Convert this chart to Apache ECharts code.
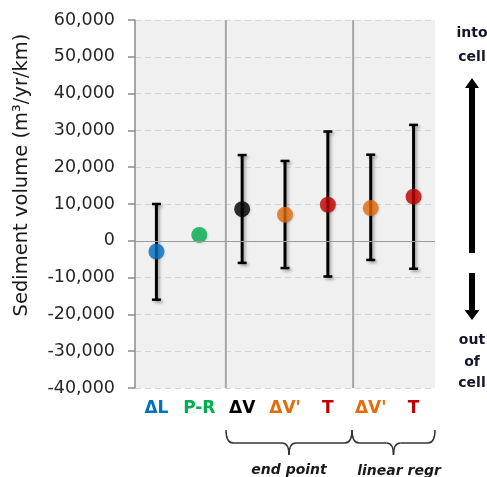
<!DOCTYPE html>
<html><head><meta charset="utf-8">
<script src="https://cdn.jsdelivr.net/npm/echarts@6/dist/echarts.min.js"></script>
<style>html,body{margin:0;padding:0;background:#fff}#c{width:487px;height:477px}</style>
</head><body><div id="c"></div>
<script>
const categories = ['ΔL', 'P-R', 'ΔV', "ΔV'", 'T', "ΔV'", 'T'];
const values = [-2900, 1600, 8600, 7100, 9800, 8900, 12000];
const errLow = [-16000, null, -6000, -7400, -9700, -5200, -7600];
const errHigh = [10000, null, 23300, 21700, 29700, 23400, 31500];
const yMin = -40000, yMax = 60000, yStep = 10000;
const groupLabels = ['end point', 'linear regr'];
const sideTop = ['into', 'cell'];
const sideBottom = ['out', 'of', 'cell'];

const colors = ['#0070C0', '#00B050', '#000000', '#E46C0A', '#C00000', '#E46C0A', '#C00000'];
const labelKeys = ['b', 'g', 'k', 'o', 'r', 'o', 'r'];

const chart = echarts.init(document.getElementById('c'), null, {renderer: 'canvas'});
const fmt = v => v.toLocaleString('en-US');

const errData = categories.map((c, i) => [i, errLow[i], errHigh[i]]).filter(d => d[1] !== null);
const dotData = categories.map((c, i) => ({value: [i, values[i]], itemStyle: {color: colors[i]}}));

function brace(x1, x2, yTop, yMid, yTip) {
  const xm = (x1 + x2) / 2, st = {stroke: '#333', lineWidth: 1.5, fill: null};
  return [
    {type: 'bezierCurve', shape: {x1: x1, y1: yTop, x2: x1 + 7, y2: yMid, cpx1: x1, cpy1: yMid}, style: st},
    {type: 'line', shape: {x1: x1 + 7, y1: yMid, x2: xm - 7, y2: yMid}, style: st},
    {type: 'bezierCurve', shape: {x1: xm - 7, y1: yMid, x2: xm, y2: yTip, cpx1: xm, cpy1: yMid}, style: st},
    {type: 'bezierCurve', shape: {x1: xm, y1: yTip, x2: xm + 7, y2: yMid, cpx1: xm, cpy1: yMid}, style: st},
    {type: 'line', shape: {x1: xm + 7, y1: yMid, x2: x2 - 7, y2: yMid}, style: st},
    {type: 'bezierCurve', shape: {x1: x2 - 7, y1: yMid, x2: x2, y2: yTop, cpx1: x2, cpy1: yMid}, style: st}
  ];
}
const txt = (x, y, t, extra) => ({type: 'text', x: x, y: y, style: Object.assign({text: t, fontSize: 14, fontWeight: 'bold', fontFamily: 'DejaVu Sans', fill: '#15152a', align: 'center', verticalAlign: 'middle'}, extra || {})});

const option = {
  animation: false,
  grid: {left: 135, right: 52, top: 20, bottom: 89, show: true, backgroundColor: '#f0f0f0', borderWidth: 0},
  xAxis: [{
    type: 'category', data: categories, boundaryGap: true,
    axisLine: {show: false}, axisTick: {show: false}, splitLine: {show: false},
    axisLabel: {
      margin: 12, interval: 0,
      formatter: (v, i) => '{' + labelKeys[i] + '|' + v + '}',
      rich: {
        b: {color: '#0070C0', fontWeight: 'bold', fontSize: 17, fontFamily: 'DejaVu Sans'},
        g: {color: '#00B050', fontWeight: 'bold', fontSize: 17, fontFamily: 'DejaVu Sans'},
        k: {color: '#000000', fontWeight: 'bold', fontSize: 17, fontFamily: 'DejaVu Sans'},
        o: {color: '#E46C0A', fontWeight: 'bold', fontSize: 17, fontFamily: 'DejaVu Sans'},
        r: {color: '#C00000', fontWeight: 'bold', fontSize: 17, fontFamily: 'DejaVu Sans'}
      }
    }
  }, {
    type: 'value', min: 0, max: 7, show: false
  }],
  yAxis: {
    type: 'value', min: yMin, max: yMax, interval: yStep,
    axisLine: {show: true, lineStyle: {color: '#8c8c8c', width: 1.5}},
    axisTick: {show: true, length: 7, lineStyle: {color: '#8c8c8c', width: 1.5}},
    splitLine: {show: true, lineStyle: {color: '#d6d6d6', type: [6, 4], width: 1.2}},
    axisLabel: {formatter: fmt, color: '#262626', fontSize: 17.5, fontFamily: 'DejaVu Sans', margin: 20}
  },
  series: [{
    type: 'custom', xAxisIndex: 0, z: 2,
    data: errData,
    renderItem: (params, api) => {
      const x = api.coord([api.value(0), 0])[0];
      const yl = api.coord([api.value(0), api.value(1)])[1];
      const yh = api.coord([api.value(0), api.value(2)])[1];
      const st = {stroke: '#000', lineWidth: 3, shadowBlur: 3, shadowColor: 'rgba(0,0,0,0.3)', shadowOffsetX: 2, shadowOffsetY: 2};
      const cst = {stroke: '#000', lineWidth: 2.5, shadowBlur: 3, shadowColor: 'rgba(0,0,0,0.3)', shadowOffsetX: 2, shadowOffsetY: 2};
      return {type: 'group', children: [
        {type: 'line', shape: {x1: x, y1: yl, x2: x, y2: yh}, style: st},
        {type: 'line', shape: {x1: x - 4.5, y1: yh, x2: x + 4.5, y2: yh}, style: cst},
        {type: 'line', shape: {x1: x - 4.5, y1: yl, x2: x + 4.5, y2: yl}, style: cst}
      ]};
    }
  }, {
    type: 'scatter', xAxisIndex: 0, z: 3, symbol: 'circle', symbolSize: 16,
    itemStyle: {shadowBlur: 2, shadowColor: 'rgba(0,0,0,0.15)', shadowOffsetX: 1, shadowOffsetY: 1},
    data: dotData,
    markLine: {
      silent: true, symbol: 'none', label: {show: false},
      lineStyle: {color: '#9a9a9a', type: 'solid', width: 1.2},
      data: [{yAxis: 0}]
    }
  }, {
    type: 'custom', xAxisIndex: 1, z: 1,
    data: [[2.12], [5.09]],
    renderItem: (params, api) => {
      const x = api.coord([api.value(0), yMax])[0];
      const yt = api.coord([api.value(0), yMax])[1];
      const yb = api.coord([api.value(0), yMin])[1];
      return {type: 'line', shape: {x1: x, y1: yt, x2: x, y2: yb}, style: {stroke: '#a6a6a6', lineWidth: 2}};
    }
  }],
  graphic: [
    {type: 'text', x: 22, y: 175, rotation: Math.PI / 2,
     style: {text: 'Sediment volume (m³/yr/km)', fontSize: 19.5, fontFamily: 'DejaVu Sans', fill: '#1a1a1a', align: 'center', verticalAlign: 'middle'}},
    {type: 'group', children: brace(226, 352, 430, 443, 455).concat(brace(352, 435, 430, 443, 455))},
    txt(289, 470, groupLabels[0], {fontStyle: 'italic', fill: '#1a1a1a'}),
    txt(399, 471, groupLabels[1], {fontStyle: 'italic', fill: '#1a1a1a'}),
    txt(472, 33, sideTop[0]),
    txt(472, 57, sideTop[1]),
    txt(472, 340, sideBottom[0]),
    txt(472, 362, sideBottom[1]),
    txt(472, 383, sideBottom[2]),
    {type: 'polygon', shape: {points: [[472, 78], [479, 88], [475, 88], [475, 253], [469, 253], [469, 88], [465, 88]]}, style: {fill: '#000'}},
    {type: 'polygon', shape: {points: [[469, 273], [475, 273], [475, 310], [479.5, 310], [472, 320], [464.5, 310], [469, 310]]}, style: {fill: '#000'}}
  ]
};
chart.setOption(option);
</script></body></html>
